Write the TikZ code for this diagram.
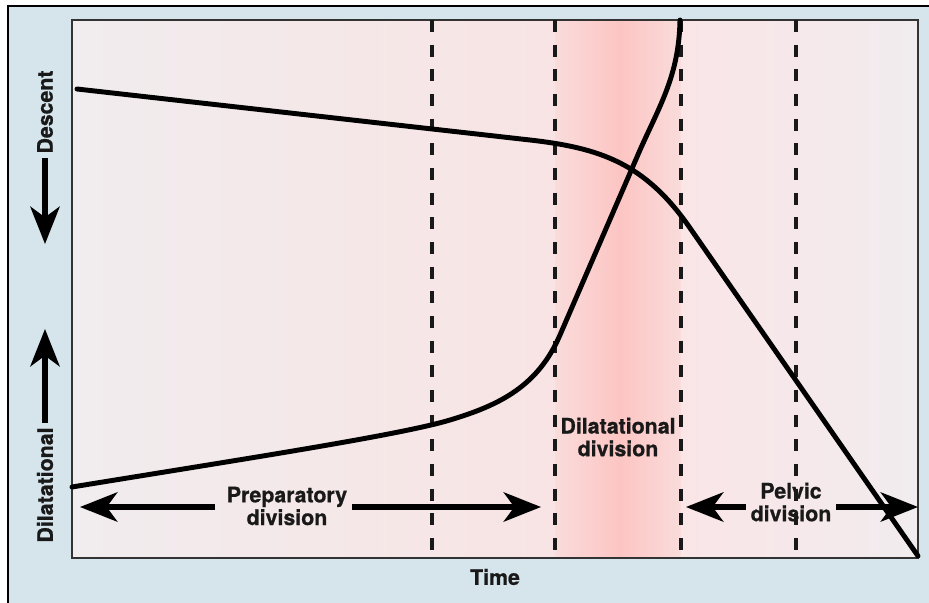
\documentclass[tikz,border=0pt]{standalone}
\usepackage{fontspec}
\setmainfont{TeX Gyre Heros}[BoldFeatures={FakeBold=0.8}]
\usetikzlibrary{arrows.meta}
\definecolor{panelblue}{HTML}{D6E4EC}
\definecolor{plotgray}{HTML}{F1ECEE}
\definecolor{plotpink}{HTML}{F8E4E4}
\definecolor{bandedge}{HTML}{F9DCDB}
\definecolor{bandmid}{HTML}{FCC5C3}
\definecolor{rightpink}{HTML}{FAE5E7}
\definecolor{framegray}{HTML}{333333}
\begin{document}
\begin{tikzpicture}[x=0.75pt, y=-0.75pt,
    divline/.style={draw=black!90, line width=2.3pt, dash pattern=on 9pt off 9.5pt},
    curve/.style={line width=3.7pt, line cap=round, line join=round},
    bigarrow/.style={line width=3.9pt, -{Stealth[length=28pt, width=22pt, inset=8pt]}},
    lbl/.style={font=\fontsize{16pt}{17pt}\selectfont\bfseries, align=center, text=black!90}]
  \useasboundingbox (0,0) rectangle (929,603);
  % Panel
  \fill[white] (0,0) rectangle (929,603);
  \fill[panelblue] (8,6) rectangle (929,603);
  \draw[line width=1.6pt] (8,603) -- (8,6) -- (929,6);
  % Plot background
  \shade[left color=plotgray, right color=plotpink] (72,20) rectangle (555,558);
  \shade[left color=bandedge, right color=bandmid] (555,20) rectangle (620,558);
  \shade[left color=bandmid, right color=bandedge] (620,20) rectangle (681,558);
  \shade[left color=rightpink, right color=plotgray] (681,20) rectangle (918,558);
  \draw[framegray, line width=1.6pt] (72,20) rectangle (918,558);
  % Division lines
  \foreach \x in {432,555,681,796} { \draw[divline] (\x,20) -- (\x,558); }
  % Descent curve
  \draw[curve] (77,89) -- (530,140) .. controls (600,148) and (645,163) .. (690,228) -- (918,556);
  % Dilatational curve
  \draw[curve] (72,487) .. controls (250,458) and (400,435) .. (450,420)
    .. controls (500,405) and (538,386) .. (560,335) -- (640,150)
    .. controls (660,105) and (679,75) .. (680,20);
  % Division labels
  \node[lbl] (prep) at (287,506) {Preparatory\\division};
  \node[lbl] (dilat) at (618,437) {Dilatational\\division};
  \node[lbl] (pelvic) at (791,502) {Pelvic\\division};
  \coordinate (prepL) at (80,507);
  \coordinate (prepR) at (541,507);
  \coordinate (pelvL) at (686,507);
  \coordinate (pelvR) at (918,507);
  \draw[bigarrow] ([xshift=-5pt]prep.west |- prepL) -- (prepL);
  \draw[bigarrow] (prep.east |- prepR) -- (prepR);
  \draw[bigarrow] (pelvic.west |- pelvL) -- (pelvL);
  \draw[bigarrow] (pelvic.east |- pelvR) -- (pelvR);
  % Axis labels
  \node[lbl] (time) at (495,577) {Time};
  \node[lbl, rotate=90] (descent) at (45,112) {Descent};
  \node[lbl, rotate=90] (dilatax) at (45,485) {Dilatational};
  \coordinate (descentTip) at (45,244);
  \coordinate (dilatTip) at (45,329);
  \draw[bigarrow] (descent.west) -- (descentTip);
  \draw[bigarrow] (dilatax.east) -- (dilatTip);
\end{tikzpicture}
\end{document}
